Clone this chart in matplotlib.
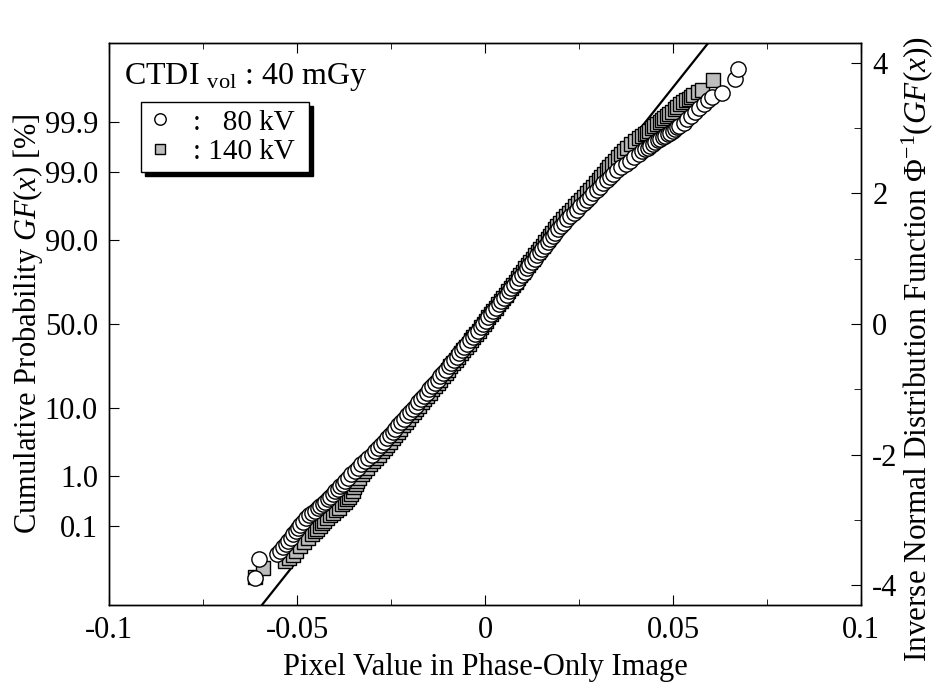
import matplotlib
matplotlib.use("Agg")
import numpy as np
import matplotlib.pyplot as plt
from matplotlib.ticker import MultipleLocator
from statistics import NormalDist

# ---- data: pixel value vs. normal quantile z ----
# 80 kV (open circles)
kv80_x = [-0.0612, -0.0602, -0.0553, -0.0545, -0.0538, -0.0530, -0.0523, -0.0516,
          -0.0510, -0.0503, -0.0497, -0.0491, -0.0485, -0.0476, -0.0468, -0.0460,
          -0.0452, -0.0445, -0.0439, -0.0432, -0.0426, -0.0419, -0.0412, -0.0405,
          -0.0399, -0.0392, -0.0386,
          -0.0379, -0.0372, -0.0364, -0.0356, -0.0347, -0.0338, -0.0329, -0.0320,
          -0.0311, -0.0302, -0.0293, -0.0285, -0.0277, -0.0269, -0.0261, -0.0254,
          -0.0246, -0.0239, -0.0231, -0.0223, -0.0215, -0.0208, -0.0200, -0.0193,
          -0.0185, -0.0178, -0.0170, -0.0163, -0.0155, -0.0148, -0.0140, -0.0133,
          -0.0126, -0.0119, -0.0111, -0.0104, -0.0097, -0.0090, -0.0083, -0.0076,
          -0.0069, -0.0062, -0.0055, -0.0048, -0.0040, -0.0033, -0.0026, -0.0019,
          -0.0012, -0.0005, 0.0002, 0.0009, 0.0015, 0.0022, 0.0029, 0.0036,
          0.0043, 0.0050, 0.0057, 0.0064, 0.0070, 0.0077, 0.0084, 0.0091,
          0.0098, 0.0105, 0.0111, 0.0118, 0.0125, 0.0132, 0.0139, 0.0146,
          0.0152, 0.0159, 0.0166, 0.0173, 0.0180, 0.0187, 0.0194, 0.0201,
          0.0209, 0.0218, 0.0227, 0.0236, 0.0244, 0.0253, 0.0262, 0.0271,
          0.0279, 0.0288, 0.0297, 0.0306, 0.0314, 0.0323, 0.0332, 0.0341,
          0.0351, 0.0362, 0.0374, 0.0386, 0.0397, 0.0409,
          0.0417, 0.0425, 0.0432, 0.0439, 0.0446, 0.0452, 0.0459, 0.0465,
          0.0472, 0.0479, 0.0486, 0.0492, 0.0499, 0.0505, 0.0511, 0.0517,
          0.0528, 0.0538, 0.0548, 0.0559, 0.0570, 0.0581, 0.0593, 0.0603,
          0.0630, 0.0664, 0.0672]
kv80_z = [-3.88, -3.60, -3.52, -3.47, -3.42, -3.37, -3.32, -3.27,
          -3.22, -3.17, -3.12, -3.07, -3.03, -2.97, -2.92, -2.89,
          -2.86, -2.82, -2.79, -2.75, -2.72, -2.68, -2.64, -2.60,
          -2.56, -2.52, -2.48,
          -2.45, -2.40, -2.35, -2.30, -2.25, -2.20, -2.15, -2.10,
          -2.05, -2.00, -1.95, -1.90, -1.85, -1.80, -1.75, -1.70,
          -1.65, -1.60, -1.55, -1.50, -1.45, -1.40, -1.35, -1.30,
          -1.25, -1.20, -1.15, -1.10, -1.05, -1.00, -0.95, -0.90,
          -0.85, -0.80, -0.75, -0.70, -0.65, -0.60, -0.55, -0.50,
          -0.45, -0.40, -0.35, -0.30, -0.25, -0.20, -0.15, -0.10,
          -0.05, 0.00, 0.05, 0.10, 0.15, 0.20, 0.25, 0.30,
          0.35, 0.40, 0.45, 0.50, 0.55, 0.60, 0.65, 0.70,
          0.75, 0.80, 0.85, 0.90, 0.95, 1.00, 1.05, 1.10,
          1.15, 1.20, 1.25, 1.30, 1.35, 1.40, 1.45, 1.50,
          1.55, 1.60, 1.65, 1.70, 1.75, 1.80, 1.85, 1.90,
          1.95, 2.00, 2.05, 2.10, 2.15, 2.20, 2.25, 2.30,
          2.35, 2.40, 2.45, 2.50, 2.55, 2.60,
          2.64, 2.68, 2.70, 2.73, 2.76, 2.78, 2.81, 2.83,
          2.86, 2.88, 2.91, 2.93, 2.96, 2.98, 3.01, 3.03,
          3.08, 3.13, 3.18, 3.24, 3.30, 3.36, 3.43, 3.48,
          3.54, 3.75, 3.90]

# 140 kV (gray squares)
kv140_x = [-0.0612, -0.0590, -0.0532, -0.0522, -0.0512, -0.0502, -0.0492, -0.0481,
           -0.0470, -0.0461, -0.0452, -0.0446, -0.0440, -0.0434, -0.0428, -0.0420,
           -0.0412, -0.0404, -0.0396, -0.0388, -0.0380, -0.0373, -0.0366, -0.0361,
           -0.0356,
           -0.0352, -0.0348, -0.0344, -0.0340, -0.0334, -0.0328, -0.0321, -0.0313,
           -0.0305, -0.0297, -0.0290, -0.0282, -0.0275, -0.0267, -0.0260, -0.0253,
           -0.0246, -0.0239, -0.0232, -0.0225, -0.0218, -0.0211, -0.0204, -0.0197,
           -0.0190, -0.0183, -0.0176, -0.0169, -0.0162, -0.0155, -0.0147, -0.0140,
           -0.0133, -0.0126, -0.0119, -0.0112, -0.0105, -0.0098, -0.0092, -0.0085,
           -0.0078, -0.0071, -0.0065, -0.0058, -0.0051, -0.0044, -0.0038, -0.0031,
           -0.0024, -0.0017, -0.0011, -0.0004, 0.0003, 0.0009, 0.0016, 0.0022,
           0.0029, 0.0035, 0.0042, 0.0048, 0.0055, 0.0061, 0.0068, 0.0074,
           0.0081, 0.0087, 0.0094, 0.0100, 0.0107, 0.0113, 0.0120, 0.0127,
           0.0133, 0.0140, 0.0146, 0.0153, 0.0159, 0.0166, 0.0172, 0.0179,
           0.0185, 0.0191, 0.0199, 0.0206, 0.0214, 0.0222, 0.0230, 0.0238,
           0.0246, 0.0254, 0.0262, 0.0271, 0.0279, 0.0287, 0.0295, 0.0302,
           0.0309, 0.0316, 0.0323, 0.0330, 0.0338, 0.0346, 0.0354, 0.0362,
           0.0370, 0.0378, 0.0388, 0.0398,
           0.0408, 0.0417, 0.0424, 0.0430, 0.0437, 0.0443, 0.0450, 0.0457,
           0.0464, 0.0470, 0.0477, 0.0483, 0.0490, 0.0497, 0.0504, 0.0510,
           0.0519, 0.0527, 0.0534, 0.0541, 0.0548, 0.0554, 0.0565, 0.0576,
           0.0607]
kv140_z = [-3.87, -3.73, -3.63, -3.58, -3.53, -3.47, -3.40, -3.34,
           -3.27, -3.22, -3.17, -3.13, -3.09, -3.05, -3.01, -2.97,
           -2.93, -2.89, -2.85, -2.81, -2.76, -2.72, -2.68, -2.64,
           -2.60,
           -2.55, -2.50, -2.45, -2.40, -2.35, -2.30, -2.25, -2.20,
           -2.15, -2.10, -2.05, -2.00, -1.95, -1.90, -1.85, -1.80,
           -1.75, -1.70, -1.65, -1.60, -1.55, -1.50, -1.45, -1.40,
           -1.35, -1.30, -1.25, -1.20, -1.15, -1.10, -1.05, -1.00,
           -0.95, -0.90, -0.85, -0.80, -0.75, -0.70, -0.65, -0.60,
           -0.55, -0.50, -0.45, -0.40, -0.35, -0.30, -0.25, -0.20,
           -0.15, -0.10, -0.05, 0.00, 0.05, 0.10, 0.15, 0.20,
           0.25, 0.30, 0.35, 0.40, 0.45, 0.50, 0.55, 0.60,
           0.65, 0.70, 0.75, 0.80, 0.85, 0.90, 0.95, 1.00,
           1.05, 1.10, 1.15, 1.20, 1.25, 1.30, 1.35, 1.40,
           1.45, 1.50, 1.55, 1.60, 1.65, 1.70, 1.75, 1.80,
           1.85, 1.90, 1.95, 2.00, 2.05, 2.10, 2.15, 2.20,
           2.25, 2.30, 2.35, 2.40, 2.45, 2.50, 2.55, 2.60,
           2.65, 2.70, 2.75, 2.80,
           2.84, 2.87, 2.90, 2.93, 2.96, 3.00, 3.03, 3.06,
           3.09, 3.12, 3.15, 3.18, 3.22, 3.25, 3.29, 3.32,
           3.36, 3.39, 3.42, 3.45, 3.48, 3.51, 3.55, 3.58,
           3.74]

# normal fit line (mean, sd of pixel value)
fit_mean = 0.0
fit_sd = 0.0138

prob_ticks = [0.1, 1.0, 10.0, 50.0, 90.0, 99.0, 99.9]
z_ticks = [-4, -2, 0, 2, 4]

plt.rcParams['font.family'] = ['Liberation Serif', 'DejaVu Serif']
plt.rcParams['mathtext.fontset'] = 'custom'
plt.rcParams['mathtext.rm'] = 'Liberation Serif'
plt.rcParams['mathtext.it'] = 'Liberation Serif:italic'
plt.rcParams['font.size'] = 22

fig = plt.figure(figsize=(9.36, 6.90), dpi=100)
ax = fig.add_axes([0.1165, 0.1232, 0.8035, 0.8145])

# fit line
xl = np.array([-0.08, 0.08])
ax.plot(xl, (xl - fit_mean) / fit_sd, color='black', lw=1.6, zorder=2)

h140, = ax.plot(kv140_x, kv140_z, ls='none', marker='s', ms=10, mfc='#bdbdbd',
                mec='black', mew=1.0, zorder=3)
h80, = ax.plot(kv80_x, kv80_z, ls='none', marker='o', ms=11, mfc='white',
               mec='black', mew=1.0, zorder=4)

ax.set_xlim(-0.1, 0.1)
ax.set_ylim(-4.3, 4.3)
ax.set_xticks([-0.1, -0.05, 0, 0.05, 0.1])
ax.set_xticklabels(['-0.1', '-0.05', '0', '0.05', '0.1'])
ax.xaxis.set_minor_locator(MultipleLocator(0.025))

prob_z = [NormalDist().inv_cdf(p / 100.0) for p in prob_ticks]
ax.set_yticks(prob_z)
ax.set_yticklabels([f"{p:.1f}" for p in prob_ticks])

ax.tick_params(axis='x', which='both', direction='in', top=True, pad=8)
ax.tick_params(axis='x', which='major', length=7)
ax.tick_params(axis='x', which='minor', length=4)
ax.tick_params(axis='y', which='major', direction='in', length=7, pad=8)

ax.set_xlabel('Pixel Value in Phase-Only Image', labelpad=6)
ax.set_ylabel('Cumulative Probability $GF$($x$) [%]', labelpad=0)

ax2 = ax.twinx()
ax2.set_ylim(ax.get_ylim())
ax2.set_yticks(z_ticks)
ax2.set_yticklabels([str(v) for v in z_ticks])
ax2.yaxis.set_minor_locator(MultipleLocator(1))
ax2.tick_params(axis='y', which='both', direction='in', pad=8)
ax2.tick_params(axis='y', which='major', length=7)
ax2.tick_params(axis='y', which='minor', length=5)
ax2.set_ylabel('Inverse Normal Distribution Function \u03a6$^{-1}$($GF$($x$))',
               labelpad=1, fontsize=22.5)
ax2.yaxis.label.set_y(0.455)

for a in (ax, ax2):
    for s in a.spines.values():
        s.set_linewidth(1.0)

ax.text(0.02, 0.968, 'CTDI $_{\\rm vol}$ : 40 mGy', transform=ax.transAxes,
        ha='left', va='top', fontsize=23)

leg = ax.legend([h80, h140], [':   80 kV ', ': 140 kV '], loc='upper left',
                bbox_to_anchor=(0.042, 0.895), fontsize=21, frameon=True,
                fancybox=False, edgecolor='black', framealpha=1,
                markerscale=0.75, handlelength=0.8, handletextpad=0.75,
                borderpad=0.25, labelspacing=0.1, borderaxespad=0,
                shadow={'ox': 3, 'oy': -3, 'facecolor': 'black',
                        'edgecolor': 'black', 'alpha': 1})
leg.get_frame().set_linewidth(1.0)

fig.savefig('out.png', dpi=100)
